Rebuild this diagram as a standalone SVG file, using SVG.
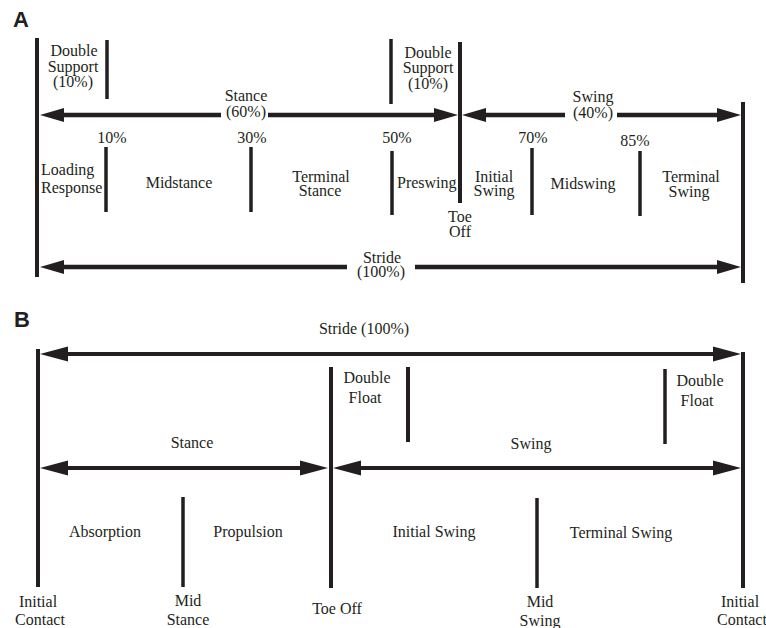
<svg xmlns="http://www.w3.org/2000/svg" width="766" height="628" viewBox="0 0 766 628">
<style>
text{font-family:"Liberation Serif","Times New Roman",serif;font-size:16px;fill:#231f20;text-anchor:middle}
text.panel{font-family:"Liberation Sans",Arial,sans-serif;font-weight:bold;font-size:22px;text-anchor:start}
text.l{text-anchor:start}
.bar{stroke:#231f20;stroke-width:4;fill:none}
.tick{stroke:#231f20;stroke-width:3.5;fill:none}
.arA{stroke:#231f20;stroke-width:4.5;fill:none}
.arB{stroke:#231f20;stroke-width:4;fill:none}
</style>
<defs>
<marker id="ha" markerUnits="userSpaceOnUse" markerWidth="26" markerHeight="16" refX="14" refY="7" orient="auto-start-reverse" overflow="visible">
<path d="M0,0 L24,7 L0,14 Z" fill="#231f20"/>
</marker>
<marker id="hb" markerUnits="userSpaceOnUse" markerWidth="30" markerHeight="16" refX="18" refY="7.5" orient="auto-start-reverse" overflow="visible">
<path d="M0,0 L28,7.5 L0,15 Z" fill="#231f20"/>
</marker>
</defs>
<rect width="766" height="628" fill="#ffffff"/>

<!-- Panel A -->
<g id="panelA-label"><text class="panel" x="13" y="27">A</text></g>
<g id="A-initial-contact"><line class="bar" x1="37" y1="38" x2="37" y2="277"/></g>
<g id="A-double-support-1">
<line class="tick" x1="107" y1="40" x2="107" y2="99"/>
<text x="74" y="56">Double</text><text x="73" y="72">Support</text><text x="73" y="87">(10%)</text>
</g>
<g id="A-double-support-2">
<line class="tick" x1="391" y1="39" x2="391" y2="104"/>
<text x="428" y="58">Double</text><text x="428" y="73">Support</text><text x="428" y="89">(10%)</text>
</g>
<g id="A-toe-off">
<line class="bar" x1="460" y1="42" x2="460" y2="203"/>
<text x="460" y="222">Toe</text><text x="460" y="237">Off</text>
</g>
<g id="A-end"><line class="bar" x1="743" y1="102" x2="743" y2="283"/></g>
<g id="A-10"><line class="tick" x1="106" y1="147" x2="106" y2="212"/><text x="112" y="143">10%</text></g>
<g id="A-30"><line class="tick" x1="251" y1="147" x2="251" y2="212"/><text x="252" y="143">30%</text></g>
<g id="A-50"><line class="tick" x1="392" y1="151" x2="392" y2="215"/><text x="397" y="143">50%</text></g>
<g id="A-70"><line class="tick" x1="532" y1="148" x2="532" y2="215"/><text x="533" y="143">70%</text></g>
<g id="A-85"><line class="tick" x1="640" y1="151" x2="640" y2="216"/><text x="635" y="146">85%</text></g>
<g id="A-loading"><text class="l" x="41" y="175">Loading</text><text class="l" x="41" y="193">Response</text></g>
<g id="A-midstance"><text x="179" y="188">Midstance</text></g>
<g id="A-terminal-stance"><text x="321" y="182">Terminal</text><text x="320" y="196">Stance</text></g>
<g id="A-preswing"><text class="l" x="397" y="188">Preswing</text></g>
<g id="A-initial-swing"><text x="494" y="182">Initial</text><text x="494" y="196">Swing</text></g>
<g id="A-midswing"><text x="583" y="189">Midswing</text></g>
<g id="A-terminal-swing"><text x="691" y="182">Terminal</text><text x="689" y="197">Swing</text></g>
<g id="A-stance-label"><text x="246" y="101">Stance</text><text x="246" y="117">(60%)</text></g>
<g id="A-swing-label"><text x="593" y="102">Swing</text><text x="593" y="118">(40%)</text></g>
<g id="A-stride-label"><text x="382" y="263">Stride</text><text x="381" y="277">(100%)</text></g>

<!-- Panel B -->
<g id="panelB-label"><text class="panel" x="14" y="327">B</text></g>
<g id="B-initial-contact-1">
<line class="bar" x1="38" y1="349" x2="38" y2="587"/>
<text x="38" y="607">Initial</text><text x="40" y="625">Contact</text>
</g>
<g id="B-toe-off">
<line class="bar" x1="331" y1="367" x2="331" y2="588"/>
<text x="337" y="614">Toe Off</text>
</g>
<g id="B-initial-contact-2">
<line class="bar" x1="743" y1="352" x2="743" y2="588"/>
<text x="740" y="607">Initial</text><text x="742" y="625">Contact</text>
</g>
<g id="B-double-float-1">
<line class="bar" x1="408" y1="367" x2="408" y2="442"/>
<text x="367" y="383">Double</text><text x="365" y="403">Float</text>
</g>
<g id="B-double-float-2">
<line class="tick" x1="665" y1="369" x2="665" y2="444"/>
<text x="700" y="386">Double</text><text x="697" y="406">Float</text>
</g>
<g id="B-mid-stance">
<line class="tick" x1="183" y1="497" x2="183" y2="587"/>
<text x="188" y="606">Mid</text><text x="188" y="625">Stance</text>
</g>
<g id="B-mid-swing">
<line class="tick" x1="537" y1="498" x2="537" y2="588"/>
<text x="540" y="607">Mid</text><text x="540" y="626">Swing</text>
</g>
<g id="B-absorption"><text x="105" y="537">Absorption</text></g>
<g id="B-propulsion"><text x="248" y="537">Propulsion</text></g>
<g id="B-initial-swing"><text x="434" y="537">Initial Swing</text></g>
<g id="B-terminal-swing"><text x="621" y="538">Terminal Swing</text></g>
<g id="B-stride-label"><text x="364" y="334">Stride (100%)</text></g>
<g id="B-stance-label"><text x="192" y="448">Stance</text></g>
<g id="B-swing-label"><text x="531" y="449">Swing</text></g>

<!-- Connectors -->
<g id="connectors">
<line class="arA" x1="50" y1="115" x2="221" y2="115" marker-start="url(#ha)"/>
<line class="arA" x1="268" y1="115" x2="448" y2="115" marker-end="url(#ha)"/>
<line class="arA" x1="472" y1="115" x2="565" y2="115" marker-start="url(#ha)"/>
<line class="arA" x1="617" y1="115" x2="731" y2="115" marker-end="url(#ha)"/>
<line class="arA" x1="50" y1="267" x2="347" y2="267" marker-start="url(#ha)"/>
<line class="arA" x1="415" y1="267" x2="731" y2="267" marker-end="url(#ha)"/>
<line class="arB" x1="50" y1="354" x2="731" y2="354" marker-start="url(#hb)" marker-end="url(#hb)"/>
<line class="arB" x1="50" y1="468" x2="318" y2="468" marker-start="url(#hb)" marker-end="url(#hb)"/>
<line class="arB" x1="343" y1="468" x2="731" y2="468" marker-start="url(#hb)" marker-end="url(#hb)"/>
</g>
</svg>
